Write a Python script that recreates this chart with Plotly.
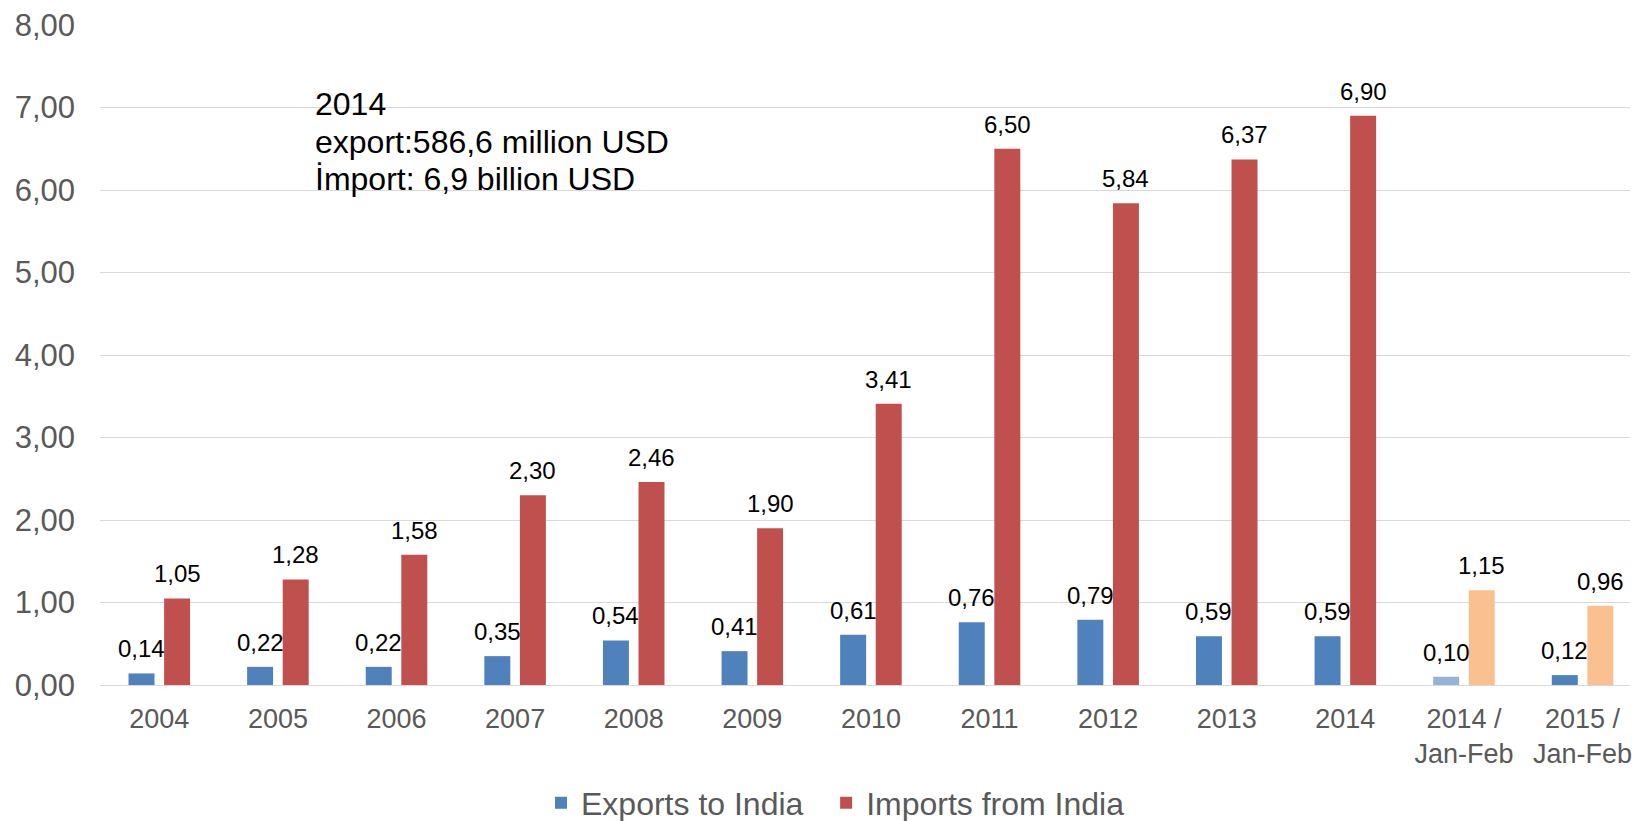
import plotly.graph_objects as go

# Trade between Turkey and India, billion USD
categories = ["2004", "2005", "2006", "2007", "2008", "2009", "2010", "2011",
              "2012", "2013", "2014", "2014 /<br>Jan-Feb", "2015 /<br>Jan-Feb"]
exports = [0.14, 0.22, 0.22, 0.35, 0.54, 0.41, 0.61, 0.76, 0.79, 0.59, 0.59, 0.10, 0.12]
imports = [1.05, 1.28, 1.58, 2.30, 2.46, 1.90, 3.41, 6.50, 5.84, 6.37, 6.90, 1.15, 0.96]
y_ticks = [0, 1, 2, 3, 4, 5, 6, 7, 8]
note_lines = ["2014", "export:586,6 million USD", "İmport: 6,9 billion USD"]

BLUE, BLUE_LIGHT = "#4F81BD", "#95B3D7"
RED, ORANGE = "#C0504D", "#FAC090"
export_colors = [BLUE] * 11 + [BLUE_LIGHT, BLUE]
import_colors = [RED] * 11 + [ORANGE, ORANGE]

FONT = "Arial, Liberation Sans, sans-serif"
GREY = "#595959"
NBSP = "\u00a0"

fig = go.Figure()
# trailing non-breaking spaces widen the gap between the two legend entries
fig.add_trace(go.Bar(x=categories, y=exports, name="Exports to India" + NBSP * 2,
                     marker=dict(color=export_colors, line=dict(width=0))))
fig.add_trace(go.Bar(x=categories, y=imports, name="Imports from India",
                     marker=dict(color=import_colors, line=dict(width=0))))

# value labels above each bar (x given as category index)
annotations = []
for i, (ev, iv) in enumerate(zip(exports, imports)):
    for val, shift in ((ev, -17.8), (iv, 17.8)):
        annotations.append(dict(
            x=i, y=val, xref="x", yref="y", text=f"{val:.2f}".replace(".", ","),
            showarrow=False, xanchor="center", yanchor="bottom",
            xshift=shift, yshift=9, font=dict(family=FONT, size=24, color="#000000")))

# note block in the upper left, one line per annotation
for k, line in enumerate(note_lines):
    annotations.append(dict(
        x=(313 - 100) / 1532, y=(685 - 104 - 37.5 * k) / 660, xref="paper", yref="paper",
        xanchor="left", yanchor="middle", align="left", showarrow=False,
        text=line, font=dict(family=FONT, size=32, color="#000000")))

fig.update_layout(
    width=1632, height=821,
    margin=dict(l=100, r=0, t=25, b=136),
    paper_bgcolor="white", plot_bgcolor="white",
    separators=",.",
    barmode="group", bargap=0.4, bargroupgap=0.27,
    font=dict(family=FONT, color=GREY),
    showlegend=True,
    legend=dict(orientation="h", xref="container", yref="container",
                x=541 / 1632, xanchor="left", y=(821 - 803) / 821, yanchor="middle",
                font=dict(family=FONT, size=32, color=GREY),
                itemclick=False, bgcolor="rgba(0,0,0,0)"),
    annotations=annotations,
    xaxis=dict(range=[-0.5, 12.4], showgrid=False, showline=False, zeroline=False,
               ticks="", ticklabelstandoff=15, tickangle=0,
               tickfont=dict(family=FONT, size=27, color=GREY)),
    yaxis=dict(range=[0, 8], tickvals=y_ticks, tickformat=".2f",
               showgrid=True, gridcolor="#D9D9D9", gridwidth=1.3,
               zeroline=True, zerolinecolor="#D9D9D9", zerolinewidth=1.3,
               showline=False, ticks="", ticklabelstandoff=24,
               tickfont=dict(family=FONT, size=31, color=GREY)),
)

fig.write_html("out.html")
